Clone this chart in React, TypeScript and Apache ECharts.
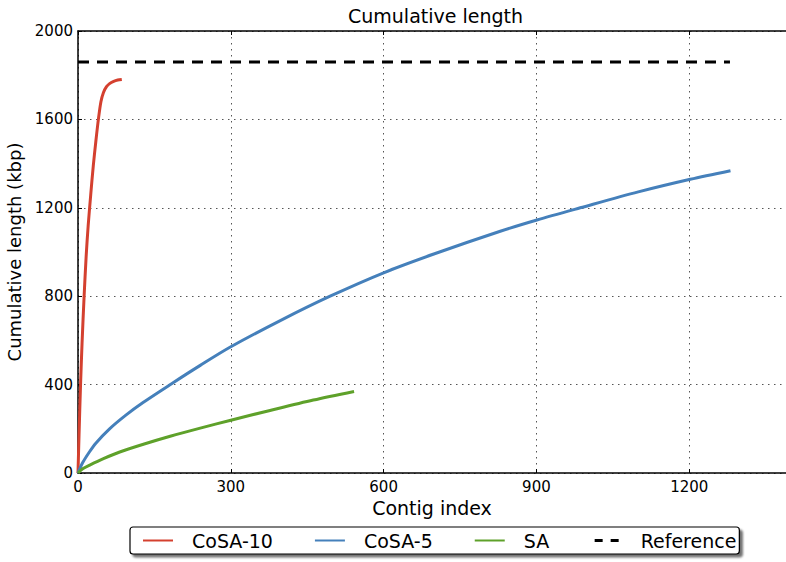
import React, { useEffect, useRef } from "react";
import * as echarts from "echarts";

const title = "Cumulative length";
const xName = "Contig index";
const yName = "Cumulative length (kbp)";

const cosa10Idx = [0, 2, 5, 8, 12, 16, 20, 25, 30, 35, 40, 45, 50, 56, 62, 70, 78, 86];
const cosa10Len = [0, 170, 400, 590, 800, 980, 1120, 1260, 1390, 1500, 1600, 1680, 1722, 1748, 1762, 1772, 1778, 1781];

const cosa5Idx = [0, 9, 22, 35, 62, 94, 127, 183, 240, 300, 400, 495, 600, 700, 829, 901, 986, 1100, 1202, 1281];
const cosa5Len = [0, 46, 94, 135, 200, 262, 318, 403, 487, 571, 693, 800, 906, 992, 1094, 1145, 1200, 1272, 1329, 1368];

const saIdx = [0, 10, 24, 50, 82, 130, 181, 240, 300, 377, 462, 542];
const saLen = [0, 20, 37, 65, 95, 131, 166, 203, 239, 283, 330, 369];

const refIdx = [0, 1280];
const refLen = [1860, 1860];

const seriesNames = ["CoSA-10", "CoSA-5", "SA", "Reference"];
const seriesColors = ["#d4402f", "#4580bb", "#5ea12a", "#000000"];

const xTickInterval = 300;
const yTickInterval = 400;

const pairs = (xs: number[], ys: number[]) => xs.map((x, i) => [x, ys[i]]);

const FONT = "DejaVu Sans";

export default function App() {
  const ref = useRef<HTMLDivElement>(null);
  useEffect(() => {
    if (!ref.current) return;
    const chart = echarts.init(ref.current, undefined, { renderer: "svg" });
    const gridLine = { show: true, lineStyle: { color: "#555", type: [1.5, 4.5] as any, width: 1 } };
    const datasets = [
      pairs(cosa10Idx, cosa10Len),
      pairs(cosa5Idx, cosa5Len),
      pairs(saIdx, saLen),
      pairs(refIdx, refLen),
    ];
    const plain = (v: number) => String(v);
    chart.setOption({
      animation: false,
      textStyle: { fontFamily: FONT },
      title: {
        text: title,
        left: 343,
        top: 1,
        textStyle: { fontFamily: FONT, fontSize: 19, fontWeight: "normal", color: "#000" },
      },
      grid: { left: 78, right: 0, top: 31, bottom: 89, outerBoundsMode: "none", containLabel: false },
      xAxis: [
        {
          type: "value",
          min: 0,
          max: 1390,
          interval: xTickInterval,
          name: xName,
          nameLocation: "middle",
          nameGap: 25,
          nameTextStyle: { fontSize: 19, color: "#000", fontFamily: FONT },
          axisLine: { show: true, onZero: false, lineStyle: { color: "#000", width: 1.5 } },
          axisTick: { show: true, inside: true, length: 4, lineStyle: { color: "#000" } },
          axisLabel: { fontSize: 15, color: "#000", margin: 6, showMaxLabel: false, fontFamily: FONT, formatter: plain },
          splitLine: gridLine,
        },
        {
          type: "value",
          position: "top",
          min: 0,
          max: 1390,
          interval: xTickInterval,
          axisLine: { show: true, onZero: false, lineStyle: { color: "#000", width: 1.5 } },
          axisTick: { show: true, inside: true, length: 4, lineStyle: { color: "#000" } },
          axisLabel: { show: false },
          splitLine: { show: false },
        },
      ],
      yAxis: {
        type: "value",
        min: 0,
        max: 2000,
        interval: yTickInterval,
        name: yName,
        nameLocation: "middle",
        nameGap: 50,
        nameTextStyle: { fontSize: 18, color: "#000", fontFamily: FONT },
        axisLine: { show: true, onZero: false, lineStyle: { color: "#000", width: 1.5 } },
        axisTick: { show: true, inside: true, length: 4, lineStyle: { color: "#000" } },
        axisLabel: { fontSize: 15, color: "#000", margin: 5, fontFamily: FONT, formatter: plain },
        splitLine: gridLine,
      },
      legend: {
        left: 130,
        top: 527,
        itemWidth: 30,
        itemHeight: 14,
        itemGap: 41,
        padding: [4, 3, 4, 12],
        backgroundColor: "#fff",
        borderColor: "#000",
        borderWidth: 1.2,
        borderRadius: 3,
        shadowColor: "rgba(0,0,0,0.55)",
        shadowBlur: 2,
        shadowOffsetX: 3,
        shadowOffsetY: 3,
        itemStyle: { color: "transparent", borderColor: "transparent", borderWidth: 0, opacity: 0 },
        textStyle: { fontSize: 19, color: "#000", fontFamily: FONT, padding: [0, 0, 0, 14] },
        data: seriesNames.map((name, i) =>
          i === 3
            ? { name, lineStyle: { type: [8, 8] as any, dashOffset: -3, width: 3, color: "#000" } }
            : { name }
        ),
      },
      series: seriesNames.map((name, i) => ({
        name,
        type: "line",
        data: datasets[i],
        showSymbol: false,
        symbol: "none",
        smooth: i < 3 ? 0.3 : false,
        color: seriesColors[i],
        lineStyle: {
          color: seriesColors[i],
          width: 3,
          type: i === 3 ? ([11, 8] as any) : "solid",
        },
        z: 3,
      })),
    });
    return () => chart.dispose();
  }, []);
  return <div ref={ref} style={{ width: 786, height: 562, position: "absolute", left: 0, top: 0 }} />;
}
